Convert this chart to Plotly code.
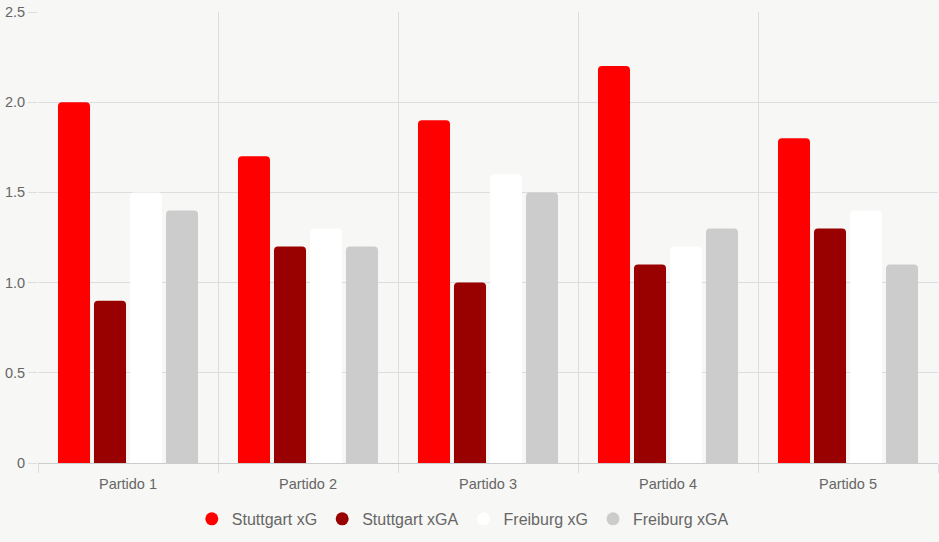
import plotly.graph_objects as go

categories = ["Partido 1", "Partido 2", "Partido 3", "Partido 4", "Partido 5"]
stuttgart_xg = [2.0, 1.7, 1.9, 2.2, 1.8]
stuttgart_xga = [0.9, 1.2, 1.0, 1.1, 1.3]
freiburg_xg = [1.5, 1.3, 1.6, 1.2, 1.4]
freiburg_xga = [1.4, 1.2, 1.5, 1.3, 1.1]

series = [
    ("Stuttgart xG", stuttgart_xg, "#ff0000"),
    ("Stuttgart xGA", stuttgart_xga, "#990000"),
    ("Freiburg xG", freiburg_xg, "#ffffff"),
    ("Freiburg xGA", freiburg_xga, "#cccccc"),
]

fig = go.Figure()
for name, vals, color in series:
    fig.add_trace(go.Bar(
        x=categories, y=vals, name=name, showlegend=False,
        marker=dict(color=color, line=dict(width=0), cornerradius=4),
        hoverinfo="x+y+name",
    ))
for name, vals, color in series:
    fig.add_trace(go.Scatter(
        x=[None], y=[None], name=name, mode="markers",
        marker=dict(color=color, size=13, symbol="circle"),
    ))

font_fam = "Liberation Sans, Arial, sans-serif"
fig.update_layout(
    width=939, height=542,
    margin=dict(l=38, r=1, t=12, b=79),
    paper_bgcolor="#f7f7f5", plot_bgcolor="#f7f7f5",
    barmode="group", bargap=0.2, bargroupgap=0.11,
    font=dict(family=font_fam, color="#666666", size=14.5),
    legend=dict(orientation="h", x=0.472, xanchor="center", y=-0.124, yanchor="middle",
                font=dict(size=16, color="#666666"), itemsizing="trace",
                bgcolor="rgba(0,0,0,0)"),
    xaxis=dict(type="category", tickson="boundaries", showgrid=True, gridcolor="#dddddd",
               gridwidth=1, ticks="outside", ticklen=9, tickcolor="#dddddd",
               showline=True, linecolor="#cccccc", linewidth=1,
               ticklabelstandoff=8,
               tickfont=dict(size=14.5, color="#666666"), range=[-0.5, 4.5]),
    yaxis=dict(range=[0, 2.5], tickvals=[0, 0.5, 1.0, 1.5, 2.0, 2.5],
               ticktext=["0", "0.5", "1.0", "1.5", "2.0", "2.5"],
               showgrid=True, gridcolor="#dddddd", gridwidth=1, zeroline=False,
               ticks="outside", ticklen=9, tickcolor="#dddddd",
               showline=False, tickfont=dict(size=14.5, color="#666666")),
)

fig.write_html("out.html")
